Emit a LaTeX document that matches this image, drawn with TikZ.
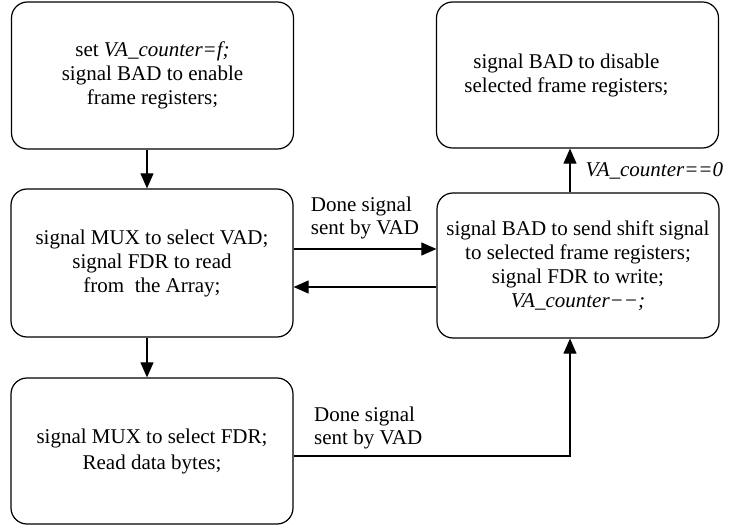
\documentclass[tikz,border=0pt]{standalone}
\usepackage{fontspec}
\setmainfont{Liberation Serif}
\usetikzlibrary{arrows.meta}
\begin{document}
\begin{tikzpicture}[x=1pt,y=-1pt,
  box/.style={draw, line width=1.2pt, rounded corners=16pt, inner sep=0pt, align=center,
    minimum width=282pt, font=\fontsize{21}{24}\selectfont},
  arr/.style={line width=1.1pt, -{Triangle[length=15pt,width=13pt]}},
  lab/.style={font=\fontsize{21}{23}\selectfont, inner sep=0pt}]
\useasboundingbox (0,0) rectangle (732,529);
\node[box, minimum height=147pt] (b1) at (152.5,75.5)
  {set \textit{VA\_counter=f;}\\signal BAD to enable\\frame registers;};
\node[box, minimum height=148pt] (b2) at (152,263)
  {signal MUX to select VAD;\\signal FDR to read\\from\ \ the Array;};
\node[box, minimum height=146pt] (b3) at (152,451)
  {signal MUX to select FDR;\\[2pt]Read data bytes;};
\node[box, minimum height=146pt] (b4) at (577.5,75)
  {signal BAD to disable\hspace*{22pt}\\selected frame registers;\hspace*{22pt}};
\node[box, minimum height=145pt] (b5) at (578,265.5)
  {signal BAD to send shift signal\\to selected frame registers;\\signal FDR to write;\hspace*{46pt}\\\textit{VA\_counter−−;}};
\coordinate (xa) at (147,0);
\coordinate (xb) at (570,0);
\coordinate (ya) at (0,249);
\coordinate (yb) at (0,287);
\coordinate (corner) at (570,456);
\draw[arr] (b1.south -| xa) -- (b2.north -| xa);
\draw[arr] (b2.south -| xa) -- (b3.north -| xa);
\draw[arr] (b2.east |- ya) -- node[above=9pt, lab, align=left] {Done signal\\sent by VAD} (b5.west |- ya);
\draw[arr] (b5.west |- yb) -- (b2.east |- yb);
\draw[arr] (b5.north -| xb) -- node[right=15pt, lab] {\textit{VA\_counter==0}} (b4.south -| xb);
\draw[arr] (b3.east |- corner) -- node[pos=0.27, above=6pt, lab, align=left] {Done signal\\sent by VAD} (corner) -- (b5.south -| corner);
\end{tikzpicture}
\end{document}
